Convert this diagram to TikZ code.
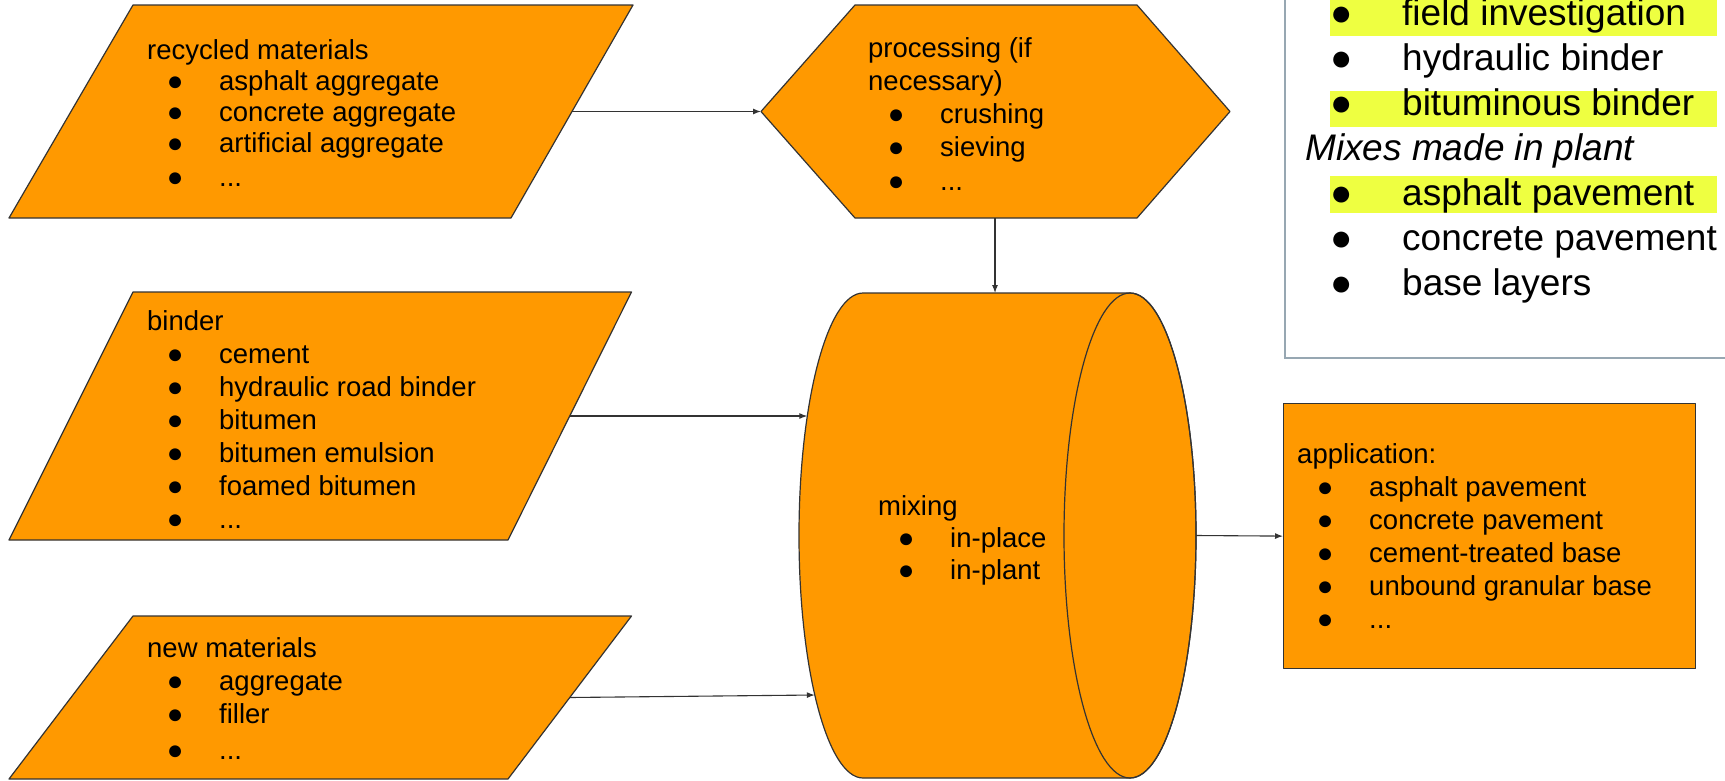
\documentclass[tikz,border=0pt]{standalone}
\usepackage{fontspec}
\setmainfont{Liberation Sans}
\usetikzlibrary{arrows.meta,calc}
\definecolor{gorange}{HTML}{FF9900}
\definecolor{hl}{HTML}{EEFF41}
\definecolor{boxline}{HTML}{97A7B2}
\definecolor{edge}{HTML}{333333}
\newcommand\bul{\hspace*{28pt}\makebox[0pt]{●}\hspace*{44pt}}
\newcommand\bigbul{\hspace*{36pt}\makebox[0pt]{●}\hspace*{61pt}}
\begin{document}
\begin{tikzpicture}[x=1pt,y=-1pt,
  shapeline/.style={draw=edge, line width=1.2pt, fill=gorange, line join=round},
  conn/.style={draw=edge, line width=1.1pt, -{Latex[length=8pt,width=6pt]}},
  txt/.style={anchor=base west, inner sep=0pt, text=black},
  bodyfont/.style={font=\fontsize{27.5}{33}\selectfont}]
\useasboundingbox (0,0) rectangle (1725,780);
\clip (0,0) rectangle (1725,780);
\fill[white] (0,0) rectangle (1725,780);

% notes box (top right)
\draw[boxline, line width=2pt] (1285,-20) rectangle (1760,358);
\fill[hl] (1330,-2) rectangle (1717,36);
\fill[hl] (1330,91) rectangle (1717,127);
\fill[hl] (1330,176) rectangle (1717,213);
\node[txt, font=\fontsize{37}{45}\selectfont] (notes) at (1305,25) {\begin{tabular}[t]{@{}l@{}}
\bigbul field investigation\\
\bigbul hydraulic binder\\
\bigbul bituminous binder\\
\itshape Mixes made in plant\\
\bigbul asphalt pavement\\
\bigbul concrete pavement\\
\bigbul base layers
\end{tabular}};

% recycled materials
\coordinate (rTL) at (133,5); \coordinate (rTR) at (633,5);
\coordinate (rBR) at (511,218); \coordinate (rBL) at (9,218);
\draw[shapeline] (rTL) -- (rTR) -- (rBR) -- (rBL) -- cycle;
\node[txt, font=\fontsize{27.5}{31}\selectfont] (rtext) at (147,59) {\begin{tabular}[t]{@{}l@{}}
recycled materials\\
\bul asphalt aggregate\\
\bul concrete aggregate\\
\bul artificial aggregate\\[3pt]
\bul ...
\end{tabular}};

% binder
\coordinate (bTL) at (133,292); \coordinate (bTR) at (631.5,292);
\coordinate (bBR) at (508,540); \coordinate (bBL) at (9,540);
\draw[shapeline] (bTL) -- (bTR) -- (bBR) -- (bBL) -- cycle;
\node[txt, bodyfont] (btext) at (147,330) {\begin{tabular}[t]{@{}l@{}}
binder\\
\bul cement\\
\bul hydraulic road binder\\
\bul bitumen\\
\bul bitumen emulsion\\
\bul foamed bitumen\\
\bul ...
\end{tabular}};

% new materials
\coordinate (nTL) at (133,616); \coordinate (nTR) at (631.5,616);
\coordinate (nBR) at (508,779); \coordinate (nBL) at (9,779);
\draw[shapeline] (nTL) -- (nTR) -- (nBR) -- (nBL) -- cycle;
\node[txt, bodyfont] (ntext) at (147,657) {\begin{tabular}[t]{@{}l@{}}
new materials\\
\bul aggregate\\
\bul filler\\[3pt]
\bul ...
\end{tabular}};

% processing hexagon
\coordinate (hL) at (761,111.5); \coordinate (hTL) at (855,5);
\coordinate (hTR) at (1137,5); \coordinate (hR) at (1230,111.5);
\coordinate (hBR) at (1137,218); \coordinate (hBL) at (855,218);
\coordinate (hB) at (995,218);
\draw[shapeline] (hL) -- (hTL) -- (hTR) -- (hR) -- (hBR) -- (hBL) -- cycle;
\node[txt, bodyfont] (htext) at (868,57) {\begin{tabular}[t]{@{}l@{}}
processing (if\\
necessary)\\
\bul crushing\\
\bul sieving\\[1pt]
\bul ...
\end{tabular}};

% mixing cylinder
\draw[shapeline] (863,293) -- (1130,293)
  arc[start angle=-90, end angle=90, x radius=66, y radius=242.5]
  -- (863,778)
  arc[start angle=90, end angle=270, x radius=64, y radius=242.5] -- cycle;
\draw[edge, line width=1.2pt] (1130,535.5) ellipse [x radius=66, y radius=242.5];
\coordinate (cT) at (995,293);
\coordinate (cA) at (807.3,416);
\coordinate (cB) at (814.8,695);
\coordinate (cR) at (1196,535.5);
\node[txt, font=\fontsize{27.5}{32}\selectfont] (mtext) at (878,515) {\begin{tabular}[t]{@{}l@{}}
mixing\\
\bul in-place\\
\bul in-plant
\end{tabular}};

% application
\node[shapeline, anchor=north west, minimum width=412pt, minimum height=265pt, inner sep=0pt] (app) at (1283,403) {};
\node[txt, bodyfont] (atext) at (1297,463) {\begin{tabular}[t]{@{}l@{}}
application:\\
\bul asphalt pavement\\
\bul concrete pavement\\
\bul cement-treated base\\
\bul unbound granular base\\
\bul ...
\end{tabular}};

% connectors
\draw[conn] ($(rTR)!0.5!(rBR)$) -- (hL);
\draw[conn] (hB) -- (cT);
\draw[conn] ($(bTR)!0.5!(bBR)$) -- (cA);
\draw[conn] ($(nTR)!0.5!(nBR)$) -- (cB);
\draw[conn] (cR) -- (app.west);
\end{tikzpicture}
\end{document}
